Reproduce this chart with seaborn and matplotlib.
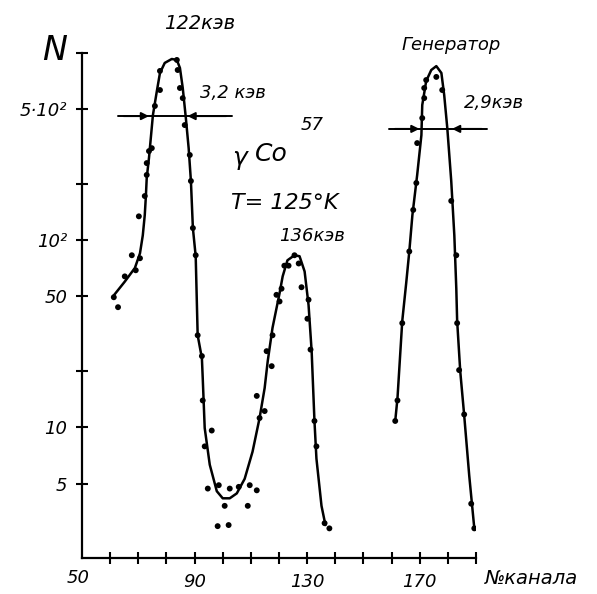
import numpy as np
import pandas as pd
import matplotlib
matplotlib.use("Agg")
import matplotlib.pyplot as plt
import seaborn as sns

# ---------------- data ----------------
# measured points, Co57 spectrum (122 keV and 136 keV lines)
co_channel = [61.3, 62.8, 65.2, 67.7, 69.1, 70.6, 70.2, 72.3, 73.0, 73.0, 73.8, 74.8,
              75.9, 77.7, 77.7, 83.7, 84.0, 84.8, 85.8, 86.5, 88.3, 88.7, 89.4, 90.4,
              91.1, 92.6, 92.9, 96.1, 93.6, 94.7, 98.6, 102.5, 105.7, 109.6, 112.1,
              100.7, 108.9, 98.2, 102.1,
              113.1, 112.1, 114.9, 115.6, 117.4, 117.7, 119.1, 120.2, 120.9, 121.9,
              123.4, 125.5, 127.0, 128.0, 130.5, 130.1, 131.2, 132.6, 133.3, 136.2, 137.9]
co_counts = [49.5, 43.8, 64, 83, 69, 80, 134, 172, 223, 258, 299, 310,
             521, 634, 802, 918, 811, 650, 574, 412, 285, 207, 116, 83,
             31, 24, 13.9, 9.6, 7.9, 4.7, 4.9, 4.7, 4.8, 4.9, 4.6,
             3.8, 3.8, 2.96, 3.0,
             11.2, 14.7, 12.2, 25.5, 21.2, 31, 51, 47, 55, 73,
             73, 83, 75, 56, 48, 38, 26, 10.8, 7.9, 3.07, 2.88]

# measured points, pulse generator
gen_channel = [161.3, 162.1, 163.8, 166.3, 167.7, 168.8, 169.1, 170.9, 171.6, 171.6,
               172.3, 175.9, 178.0, 181.2, 183.0, 183.3, 184.0, 185.8, 188.3, 189.4]
gen_counts = [10.8, 13.9, 36, 87, 145, 202, 330, 449, 574, 650,
              717, 745, 634, 162, 83, 36, 20.2, 11.7, 3.9, 2.88]

# hand-drawn smooth curves (knots)
co_curve_channel = [61.0, 65.2, 68.8, 70.6, 71.6, 72.3, 72.7, 73.0, 73.8, 75.2, 76.6,
                    77.7, 79.4, 81.9, 83.7, 84.8, 85.8, 86.9, 87.9, 88.7, 89.4, 90.4,
                    91.1, 92.6, 92.9, 93.6, 95.4, 97.9, 100.0, 102.5, 105.0, 107.8,
                    110.6, 113.1, 114.9, 116.0, 117.7, 120.2, 121.3, 123.0, 125.5,
                    127.3, 129.1, 130.5, 131.6, 132.6, 133.3, 135.1, 136.5]
co_curve_counts = [50, 60, 71, 85, 106, 136, 172, 215, 275, 466, 626,
                   782, 885, 929, 918, 832, 650, 449, 310, 207, 116, 82,
                   31, 23.4, 18.3, 9.9, 6.3, 4.55, 4.17, 4.17, 4.43, 5.3,
                   7.4, 11.2, 16.2, 22.6, 34, 52, 64, 78, 83,
                   82, 68, 45, 25.5, 10.8, 6.8, 3.8, 3.0]

gen_curve_channel = [161.3, 162.1, 163.8, 165.2, 166.3, 167.4, 169.1, 170.6, 170.9,
                     172.3, 174.1, 175.9, 177.7, 178.7, 179.8, 181.2, 182.3, 183.0,
                     183.3, 184.4, 185.8, 187.6, 189.4]
gen_curve_counts = [10.8, 14.3, 37, 59, 87, 136, 223, 364, 527,
                    708, 811, 851, 782, 596, 397, 207, 106, 55,
                    37, 19.9, 11.6, 5.5, 2.88]

# half-width markers: (level, left end, left crossing, right crossing, right end)
co_fwhm = (460, 62.8, 74.8, 86.5, 103.2)
gen_fwhm = (393, 159.2, 170.9, 180.5, 194.0)

y_ticks = [5, 10, 20, 50, 100, 200, 500, 1000]
y_tick_labels = ["5", "10", "", "50", "10²", "", "5·10²", ""]
x_ticks = [60, 70, 80, 90, 100, 110, 120, 130, 140, 150, 160, 170, 180, 190]
x_tick_labels = ["", "", "", "90", "", "", "", "130", "", "", "", "170", "", ""]

# ---------------- drawing ----------------
sns.set_style("ticks")
plt.rcParams["font.family"] = ["DejaVu Sans"]
plt.rcParams["font.style"] = "italic"
for k in ("text.color", "axes.labelcolor", "xtick.color", "ytick.color", "axes.edgecolor"):
    plt.rcParams[k] = "black"

fig = plt.figure(figsize=(5.97, 5.94), dpi=100)
ax = fig.add_axes([82 / 597, 1 - 558 / 594, (476 - 82) / 597, (558 - 53) / 594])

pts = pd.DataFrame({"ch": co_channel, "n": co_counts})
gpts = pd.DataFrame({"ch": gen_channel, "n": gen_counts})
cur = pd.DataFrame({"ch": co_curve_channel, "n": co_curve_counts})
gcur = pd.DataFrame({"ch": gen_curve_channel, "n": gen_curve_counts})

for d in (cur, gcur):
    sns.lineplot(data=d, x="ch", y="n", sort=False, estimator=None, color="black",
                 linewidth=1.8, ax=ax, solid_joinstyle="round", solid_capstyle="round")
for d in (pts, gpts):
    sns.scatterplot(data=d, x="ch", y="n", color="black", s=18, edgecolor="none", ax=ax)

ax.set_yscale("log")
ax.set_xlim(50, 190)
ax.set_ylim(2, 1000)
ax.set_yticks(y_ticks)
ax.set_yticklabels(y_tick_labels)
ax.yaxis.set_minor_locator(matplotlib.ticker.NullLocator())
ax.set_xticks(x_ticks)
ax.set_xticklabels(x_tick_labels)
ax.set_xlabel("")
ax.set_ylabel("")
for s in ("top", "right"):
    ax.spines[s].set_visible(False)
for s in ("left", "bottom"):
    ax.spines[s].set_linewidth(1.6)
    ax.spines[s].set_color("black")
ax.tick_params(axis="both", direction="inout", length=9, width=1.5, colors="black",
               labelsize=13, pad=6, bottom=True, left=True)

# "50" at the origin of the x axis
fig.text(78 / 597, 1 - 578 / 594, "50", ha="center", va="center", fontsize=13)
fig.text(485 / 597, 1 - 578 / 594, "№канала", ha="left", va="center", fontsize=14)
fig.text(55 / 597, 1 - 50 / 594, "N", ha="center", va="center", fontsize=24)

# half-width bars with inward arrows
for lvl, x0, xa, xb, x1 in (co_fwhm, gen_fwhm):
    ax.plot([x0, x1], [lvl, lvl], color="black", lw=1.4, clip_on=False)
    ax.annotate("", xy=(xa, lvl), xytext=(x0 + 1, lvl), annotation_clip=False,
                arrowprops=dict(arrowstyle="-|>", color="black", lw=1.4, mutation_scale=11))
    ax.annotate("", xy=(xb, lvl), xytext=(x1 - 1, lvl), annotation_clip=False,
                arrowprops=dict(arrowstyle="-|>", color="black", lw=1.4, mutation_scale=11))

txt = dict(ha="center", va="center", color="black", clip_on=False)
ax.text(91.8, 1445, "122кэв", fontsize=14, **txt)
ax.text(103.5, 611, "3,2 кэв", fontsize=13, **txt)
ax.text(106, 275, "γ", fontsize=18, **txt)
ax.text(117.4, 290, "Co", fontsize=18, **txt)
ax.text(131.6, 410, "57", fontsize=13, **txt)
ax.text(122, 158, "T= 125°K", fontsize=16, **txt)
ax.text(131.6, 105, "136кэв", fontsize=13, **txt)
ax.text(181.2, 1104, "Генератор", fontsize=13, **txt)
ax.text(196.5, 541, "2,9кэв", fontsize=13, **txt)

fig.savefig("out.png", dpi=100)
